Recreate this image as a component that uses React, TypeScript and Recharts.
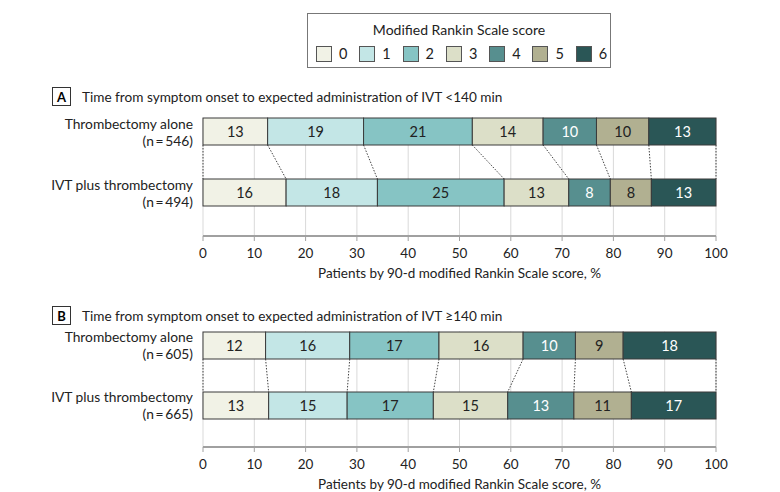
import React from 'react';
import {
  BarChart,
  Bar,
  XAxis,
  YAxis,
  CartesianGrid,
  LabelList,
} from 'recharts';

const SCORES = ['0', '1', '2', '3', '4', '5', '6'];
const COLORS = ['#f1f2e6', '#c3e6e6', '#86c4c4', '#dcdfc8', '#578f8f', '#b1b091', '#2a5656'];
const LABEL_FILL = ['#222', '#222', '#222', '#222', '#ffffff', '#222', '#ffffff'];

const GROUPS = ['Thrombectomy alone', 'IVT plus thrombectomy'];
const X_TICKS = [0, 10, 20, 30, 40, 50, 60, 70, 80, 90, 100];

// panel A: <140 min
const A_N = [546, 494];
const A_ALONE = [12.6, 18.7, 21.2, 13.8, 10.4, 10.2, 13.1];
const A_IVT = [16.2, 17.8, 24.7, 12.6, 8.1, 8.0, 12.6];
const A_ALONE_LBL = [13, 19, 21, 14, 10, 10, 13];
const A_IVT_LBL = [16, 18, 25, 13, 8, 8, 13];

// panel B: >=140 min
const B_N = [605, 665];
const B_ALONE = [12.2, 16.4, 17.4, 16.4, 10.2, 9.3, 18.1];
const B_IVT = [12.8, 15.3, 16.8, 14.5, 12.9, 11.2, 16.5];
const B_ALONE_LBL = [12, 16, 17, 16, 10, 9, 18];
const B_IVT_LBL = [13, 15, 17, 15, 13, 11, 17];

const FONT = 'Lato, "Noto Sans", sans-serif';
const X_TITLE = 'Patients by 90-d modified Rankin Scale score, %';

// layout
const AXIS_H = 48;
const BAR = 27;

type Row = Record<string, number | string>;

const buildRows = (ns: number[], values: number[][], labels: number[][]): Row[] =>
  GROUPS.map((name, i) => {
    const row: Row = { name, n: ns[i], row: i };
    SCORES.forEach((_, k) => {
      row[`s${k}`] = values[i][k];
      row[`t${k}`] = labels[i][k];
    });
    return row;
  });

const cumTo = (row: Row, k: number) => {
  let s = 0;
  for (let j = 0; j < k; j++) s += row[`s${j}`] as number;
  return s;
};

const makeShape = (k: number, rows: Row[], band: number) => (props: any) => {
  const { x, y, width, height, payload } = props;
  const val = payload[`s${k}`] as number;
  const pxPer = width / val;
  const x0 = x - cumTo(payload, k) * pxPer;
  const dotted = { stroke: '#444', strokeWidth: 1, strokeDasharray: '1.5 1.5' };
  return (
    <g>
      <rect x={x} y={y} width={width} height={height} fill={COLORS[k]} stroke="#3a3a3a" strokeWidth={1} />
      {payload.row === 0 && (
        <line
          x1={x + width}
          y1={y + height}
          x2={x0 + cumTo(rows[1], k + 1) * pxPer}
          y2={y + band}
          {...dotted}
        />
      )}
      {payload.row === 0 && k === 0 && (
        <line x1={x0} y1={y + height} x2={x0} y2={y + band} {...dotted} />
      )}
    </g>
  );
};

const RowTick = ({ x, y, payload, rows }: any) => {
  const row = rows.find((r: Row) => r.name === payload.value);
  return (
    <text x={x} y={y} textAnchor="end" fill="#222" fontSize={13.8} fontFamily={FONT}>
      <tspan x={x - 2} dy={-3}>{payload.value}</tspan>
      <tspan x={x - 2} dy={17}>{`(n\u2009=\u2009${row ? row.n : ''})`}</tspan>
    </text>
  );
};

const Panel = ({ rows, top, band }: { rows: Row[]; top: number; band: number }) => {
  const gridTop = (band - BAR) / 2;
  const padBottom = band === 61 ? 13 : 12;
  const plotH = band * 2 + padBottom;
  return (
    <div style={{ position: 'absolute', left: 0, top }}>
      <BarChart
        width={780}
        height={plotH + AXIS_H}
        data={rows}
        layout="vertical"
        barSize={BAR}
        margin={{ top: 0, right: 64, bottom: 0, left: 0 }}
      >
        <CartesianGrid
          horizontal={false}
          stroke="#d9d9d9"
          y={gridTop}
          height={plotH - gridTop}
        />
        <XAxis
          type="number"
          domain={[0, 100]}
          ticks={X_TICKS}
          height={AXIS_H}
          axisLine={{ stroke: '#a0a0a0', strokeWidth: 2 }}
          tickLine={{ stroke: '#a0a0a0' }}
          tickSize={5}
          tickMargin={7}
          tick={{ fontSize: 13.5, fill: '#222', fontFamily: FONT }}
          label={{ value: X_TITLE, position: 'insideBottom', offset: 6, fontSize: 13.5, fill: '#222', fontFamily: FONT }}
        />
        <YAxis
          type="category"
          dataKey="name"
          width={203}
          axisLine={false}
          tickLine={false}
          padding={{ top: 0, bottom: padBottom }}
          tick={<RowTick rows={rows} />}
        />
        {SCORES.map((s, k) => (
          <Bar
            key={s}
            dataKey={`s${k}`}
            stackId="a"
            fill={COLORS[k]}
            shape={makeShape(k, rows, band)}
            isAnimationActive={false}
          >
            <LabelList
              dataKey={`t${k}`}
              position="center"
              fill={LABEL_FILL[k]}
              fontSize={14.5}
              fontFamily={FONT}
            />
          </Bar>
        ))}
      </BarChart>
    </div>
  );
};

const PanelTitle = ({ letter, text, top }: { letter: string; text: string; top: number }) => (
  <div style={{ position: 'absolute', left: 52, top, display: 'flex', alignItems: 'center' }}>
    <div
      style={{
        width: 17,
        height: 17,
        border: '1px solid #333',
        display: 'flex',
        alignItems: 'center',
        justifyContent: 'center',
        fontWeight: 700,
        fontSize: 13,
      }}
    >
      {letter}
    </div>
    <div style={{ marginLeft: 11, fontSize: 13.6, color: '#222' }}>{text}</div>
  </div>
);

const Legend = () => (
  <div
    style={{
      position: 'absolute',
      left: 307,
      top: 13,
      width: 304,
      height: 55,
      border: '1px solid #777',
      boxSizing: 'border-box',
    }}
  >
    <div style={{ textAlign: 'center', fontSize: 14, color: '#222', marginTop: 7 }}>
      Modified Rankin Scale score
    </div>
    <div style={{ position: 'absolute', left: 8, top: 31, display: 'flex' }}>
      {SCORES.map((s, k) => (
        <div key={s} style={{ display: 'flex', alignItems: 'center', width: 43.3 }}>
          <div
            style={{
              width: 14,
              height: 14,
              background: COLORS[k],
              border: '1px solid #555',
            }}
          />
          <span style={{ marginLeft: 7, fontSize: 14.5, color: '#222' }}>{s}</span>
        </div>
      ))}
    </div>
  </div>
);

const rowsA = buildRows(A_N, [A_ALONE, A_IVT], [A_ALONE_LBL, A_IVT_LBL]);
const rowsB = buildRows(B_N, [B_ALONE, B_IVT], [B_ALONE_LBL, B_IVT_LBL]);

export default function App() {
  return (
    <div
      style={{
        position: 'absolute',
        left: 0,
        top: 0,
        width: 780,
        height: 492,
        background: '#fff',
        fontFamily: FONT,
        overflow: 'hidden',
      }}
    >
      <Panel rows={rowsA} top={101} band={61} />
      <Panel rows={rowsB} top={315} band={60} />
      <Legend />
      <PanelTitle letter="A" text="Time from symptom onset to expected administration of IVT <140 min" top={87} />
      <PanelTitle letter="B" text="Time from symptom onset to expected administration of IVT ≥140 min" top={306} />
    </div>
  );
}
